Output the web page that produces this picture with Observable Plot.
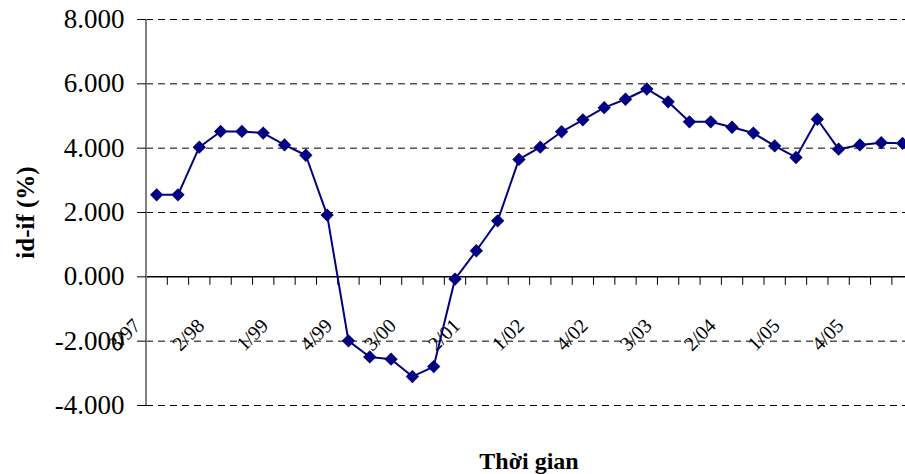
<!DOCTYPE html>
<html><head><meta charset="utf-8">
<script src="https://cdn.jsdelivr.net/npm/d3@7"></script>
<script src="https://cdn.jsdelivr.net/npm/@observablehq/plot@0.6"></script>
<style>html,body{margin:0;padding:0;background:#fff}#chart svg{display:block}</style>
</head><body><div id="chart"></div>
<script>
const categories = ["3/97","4/97","1/98","2/98","3/98","4/98","1/99","2/99","3/99","4/99","1/00","2/00","3/00","4/00","1/01","2/01","3/01","4/01","1/02","2/02","3/02","4/02","1/03","2/03","3/03","4/03","1/04","2/04","3/04","4/04","1/05","2/05","3/05","4/05","1/06","2/06"];
const values = [2.55,2.55,4.03,4.52,4.52,4.47,4.10,3.78,1.92,-1.99,-2.49,-2.56,-3.10,-2.79,-0.07,0.81,1.74,3.65,4.03,4.51,4.88,5.26,5.52,5.84,5.44,4.82,4.82,4.65,4.47,4.07,3.71,4.90,3.97,4.10,4.17,4.15];
const yTicks = [-4,-2,0,2,4,6,8];
const gridLines = [-4,-2,2,4,6,8];
const labelEvery = 3;
const xTitle = "Thời gian";
const yTitle = "id-if (%)";

const data = categories.map((c, i) => ({i, c, v: values[i]}));
const labeled = data.filter(d => d.i % labelEvery === 0);
const bounds = d3.range(categories.length + 1).map(k => k - 0.5);
const font = '"Liberation Serif","Times New Roman",serif';

// downward tick symbol for category boundaries on the x axis (which crosses at y = 0)
const tickDown = {draw(context) { context.moveTo(0, 0); context.lineTo(0, 8); }};

const chart = Plot.plot({
  width: 905, height: 474,
  marginLeft: 146, marginRight: 0, marginTop: 19, marginBottom: 69,
  style: {fontFamily: font, background: "#fff", overflow: "hidden"},
  x: {type: "linear", axis: null, domain: [-0.5, categories.length - 0.5], range: [145.5, 912.7]},
  y: {domain: [-4, 8], range: [405, 19]},
  marks: [
    Plot.ruleY(gridLines, {stroke: "#000", strokeWidth: 1, strokeDasharray: "7,5"}),
    Plot.ruleY([0], {stroke: "#000", strokeWidth: 1.5}),
    Plot.dot(bounds, {x: d => d, y: 0, symbol: tickDown, stroke: "#000", strokeWidth: 1, fill: "none"}),
    Plot.ruleX([-0.5], {stroke: "#808080", strokeWidth: 2}),
    Plot.axisY({ticks: yTicks, tickFormat: d => d.toFixed(3), tickSize: 9, tickPadding: 13, fontSize: 27, label: null}),
    Plot.text(labeled, {x: "i", y: 0, text: "c", rotate: -45, textAnchor: "end", lineAnchor: "bottom", dx: -15, dy: 50, fontSize: 20}),
    Plot.line(data, {x: "i", y: "v", stroke: "#000080", strokeWidth: 2}),
    Plot.dot(data, {x: "i", y: "v", symbol: "diamond2", r: 6, fill: "#000080", stroke: "none"}),
    Plot.text([xTitle], {text: d => d, frameAnchor: "bottom", textAnchor: "middle", dx: 3, dy: 63, lineAnchor: "bottom", fontSize: 24, fontWeight: "bold"}),
    Plot.text([yTitle], {text: d => d, frameAnchor: "left", textAnchor: "middle", rotate: -90, dx: -113, lineAnchor: "bottom", fontSize: 25, fontWeight: "bold"})
  ]
});
document.getElementById("chart").append(chart);
</script>
</body></html>
